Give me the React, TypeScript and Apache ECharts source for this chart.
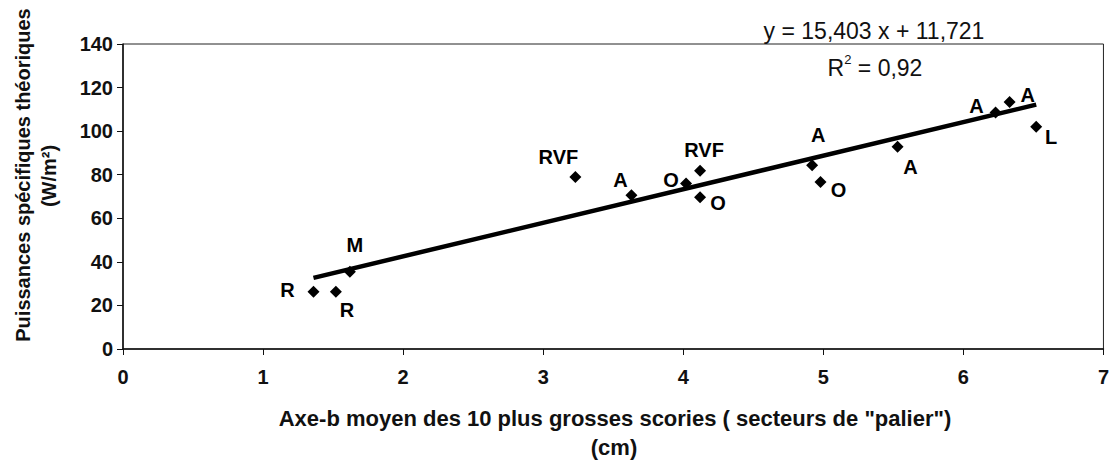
import React, { useEffect, useRef } from "react";
import * as echarts from "echarts";

const xValues = [1.36, 1.52, 1.62, 3.23, 3.63, 4.02, 4.12, 4.12, 4.92, 4.98, 5.53, 6.23, 6.33, 6.52];
const yValues = [26.3, 26.3, 35.5, 79, 70.6, 76, 81.8, 69.6, 84.4, 76.7, 92.8, 108.6, 113.4, 102];
const pointLabels = ["R", "R", "M", "RVF", "A", "O", "RVF", "O", "A", "O", "A", "A", "A", "L"];
const labelOffsets = [
  [-26, -2], [11, 18], [5, -27], [-17, -20], [-11, -15], [-15, -3], [4, -21],
  [18, 6], [6, -30], [18, 8], [13, 20], [-19, -6], [18, -7], [15, 10],
];
const slope = 15.403;
const intercept = 11.721;
const equationText = "y = 15,403 x + 11,721";
const r2Value = "0,92";
const xTicks = [0, 1, 2, 3, 4, 5, 6, 7];
const yTicks = [0, 20, 40, 60, 80, 100, 120, 140];
const xTitle = 'Axe-b moyen des 10 plus grosses scories ( secteurs de "palier")';
const xTitle2 = "(cm)";
const yTitle = "Puissances spécifiques théoriques";
const yTitle2 = "(W/m²)";

const FONT = "Liberation Sans, Arial, sans-serif";

export default function App() {
  const ref = useRef<HTMLDivElement>(null);
  useEffect(() => {
    const chart = echarts.init(ref.current!, null, { renderer: "svg" });
    const xMin = Math.min(...xValues);
    const xMax = Math.max(...xValues);
    const scatterData = xValues.map((x, i) => ({
      value: [x, yValues[i]],
      label: {
        show: true,
        formatter: pointLabels[i],
        position: "inside",
        align: "center",
        verticalAlign: "middle",
        offset: labelOffsets[i],
        fontFamily: FONT,
        fontWeight: "bold",
        fontSize: 20,
        color: "#000",
        opacity: 1,
      },
    }));
    chart.setOption({
      animation: false,
      backgroundColor: "#fff",
      grid: {
        left: 123,
        right: 3,
        top: 44,
        bottom: 111,
        show: true,
        borderColor: "#222",
        borderWidth: 1,
      },
      xAxis: {
        type: "value",
        min: xTicks[0],
        max: xTicks[xTicks.length - 1],
        interval: 1,
        axisLine: { show: true, onZero: false, lineStyle: { color: "#111", width: 1.5 } },
        axisTick: { show: true, length: 6, lineStyle: { color: "#111" } },
        splitLine: { show: false },
        axisLabel: { fontFamily: FONT, fontSize: 20, fontWeight: "bold", color: "#111", margin: 18 },
      },
      yAxis: {
        type: "value",
        min: yTicks[0],
        max: yTicks[yTicks.length - 1],
        interval: 20,
        axisLine: { show: true, lineStyle: { color: "#111", width: 1.5 } },
        axisTick: { show: true, length: 6, lineStyle: { color: "#111" } },
        splitLine: { show: false },
        axisLabel: { fontFamily: FONT, fontSize: 20, fontWeight: "bold", color: "#111", margin: 10 },
      },
      series: [
        {
          type: "line",
          data: [
            [xMin, slope * xMin + intercept],
            [xMax, slope * xMax + intercept],
          ],
          symbol: "none",
          lineStyle: { color: "#000", width: 4.5 },
          z: 2,
        },
        {
          type: "scatter",
          symbol: "diamond",
          symbolSize: 12,
          itemStyle: { color: "#000", opacity: 1 },
          data: scatterData,
          z: 3,
        },
      ],
      graphic: [
        {
          type: "text",
          x: 874,
          y: 31,
          style: {
            text: equationText,
            fontFamily: FONT,
            fontSize: 23,
            fill: "#111",
            align: "center",
            verticalAlign: "middle",
          },
        },
        {
          type: "text",
          x: 875,
          y: 66,
          style: {
            text: "{a|R}{s|2}{a| = " + r2Value + "}",
            rich: {
              a: { fontFamily: FONT, fontSize: 23, fill: "#111", verticalAlign: "bottom", lineHeight: 26 } as any,
              s: { fontFamily: FONT, fontSize: 13, fill: "#111", verticalAlign: "top", lineHeight: 26, padding: [0, 0, 12, 0] } as any,
            },
            align: "center",
            verticalAlign: "middle",
          },
        },
        {
          type: "text",
          x: 615,
          y: 418,
          style: {
            text: xTitle,
            fontFamily: FONT,
            fontWeight: "bold",
            fontSize: 22,
            fill: "#111",
            align: "center",
            verticalAlign: "middle",
          },
        },
        {
          type: "text",
          x: 614,
          y: 447,
          style: {
            text: xTitle2,
            fontFamily: FONT,
            fontWeight: "bold",
            fontSize: 22,
            fill: "#111",
            align: "center",
            verticalAlign: "middle",
          },
        },
        {
          type: "text",
          x: 23,
          y: 175,
          rotation: Math.PI / 2,
          style: {
            text: yTitle,
            fontFamily: FONT,
            fontWeight: "bold",
            fontSize: 20,
            fill: "#111",
            align: "center",
            verticalAlign: "middle",
          },
        },
        {
          type: "text",
          x: 49,
          y: 176,
          rotation: Math.PI / 2,
          style: {
            text: yTitle2,
            fontFamily: FONT,
            fontWeight: "bold",
            fontSize: 20,
            fill: "#111",
            align: "center",
            verticalAlign: "middle",
          },
        },
      ],
    });
    return () => chart.dispose();
  }, []);
  return <div ref={ref} style={{ width: 1112, height: 460, position: "absolute", left: 0, top: 0 }} />;
}
